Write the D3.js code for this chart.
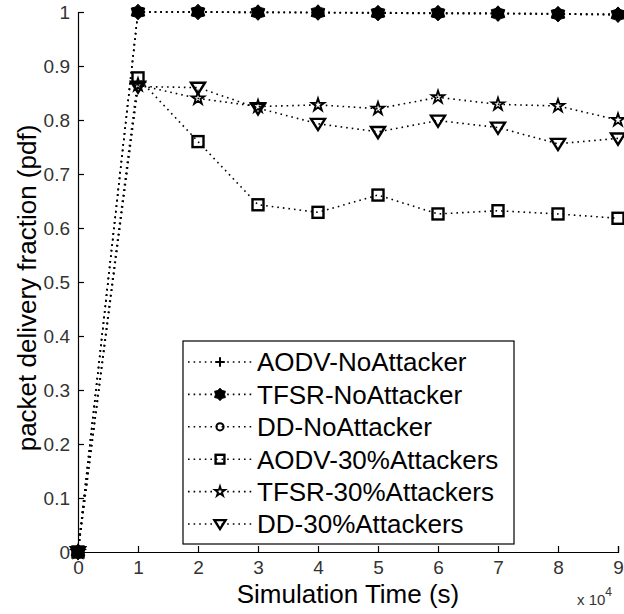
<!DOCTYPE html>
<html>
<head>
<meta charset="utf-8">
<script src="https://cdn.jsdelivr.net/npm/d3@7"></script>
<style>
  body { margin: 0; background: #fff; }
  text { font-family: "Liberation Sans", Arial, sans-serif; }
</style>
</head>
<body>
<script>
// simulation time (s)
const times = [0, 10000, 20000, 30000, 40000, 50000, 60000, 70000, 80000, 90000];
const xTicks = [0, 10000, 20000, 30000, 40000, 50000, 60000, 70000, 80000, 90000];
const yTicks = [0, 0.1, 0.2, 0.3, 0.4, 0.5, 0.6, 0.7, 0.8, 0.9, 1];

// packet delivery fraction per series
const aodvNo   = [0, 1, 1, 0.999, 0.999, 0.998, 0.997, 0.997, 0.996, 0.995];
const tfsrNo   = [0, 1, 1, 0.999, 0.999, 0.998, 0.998, 0.997, 0.996, 0.995];
const ddNo     = [0, 1, 1, 1, 0.999, 0.999, 0.998, 0.998, 0.997, 0.996];
const aodv30   = [0, 0.878, 0.760, 0.643, 0.629, 0.661, 0.626, 0.632, 0.626, 0.618];
const tfsr30   = [0, 0.865, 0.840, 0.825, 0.828, 0.821, 0.842, 0.829, 0.826, 0.800];
const dd30     = [0, 0.862, 0.860, 0.822, 0.793, 0.778, 0.799, 0.786, 0.756, 0.766];

const seriesNames = ["AODV-NoAttacker", "TFSR-NoAttacker", "DD-NoAttacker",
                     "AODV-30%Attackers", "TFSR-30%Attackers", "DD-30%Attackers"];
const seriesValues = [aodvNo, tfsrNo, ddNo, aodv30, tfsr30, dd30];
const markers = ["plus", "hexfill", "circle", "square", "star", "tridown"];

const width = 624, height = 614;
const margin = { top: 12, right: 6, bottom: 62, left: 78 };

const svg = d3.select("body").append("svg")
  .attr("width", width)
  .attr("height", height);

const x = d3.scaleLinear().domain([0, 90000]).range([margin.left, width - margin.right]);
const y = d3.scaleLinear().domain([0, 1]).range([height - margin.bottom, margin.top]);

// axes (MATLAB style: ticks inward, box off)
const xAxis = svg.append("g")
  .attr("transform", `translate(0,${y(0)})`)
  .call(d3.axisBottom(x).tickValues(xTicks).tickSize(-6).tickPadding(9).tickFormat(d => d / 1e4));
const yAxis = svg.append("g")
  .attr("transform", `translate(${x(0)},0)`)
  .call(d3.axisLeft(y).tickValues(yTicks).tickSize(-6).tickPadding(8).tickFormat(d3.format("~g")));

[xAxis, yAxis].forEach(g => {
  g.select(".domain").attr("stroke", "#000").attr("stroke-width", 1.2);
  g.selectAll(".tick line").attr("stroke", "#000").attr("stroke-width", 1.2);
  g.selectAll(".tick text").attr("fill", "#333").style("font-size", "19px");
});

// marker drawing
function drawMarker(g, type, cx, cy, s) {
  s = s || 1;
  const m = g.append("g").attr("transform", `translate(${cx},${cy})`);
  if (type === "plus") {
    m.append("path").attr("d", `M${-6*s},0H${6*s}M0,${-6*s}V${6*s}`)
      .attr("stroke", "#000").attr("stroke-width", 2);
  } else if (type === "hexfill") {
    const pts = [];
    for (let i = 0; i < 12; i++) {
      const r = i % 2 === 0 ? 7.8 * s : 5.6 * s;
      const a = Math.PI / 6 * i - Math.PI / 2;
      pts.push([r * Math.cos(a), r * Math.sin(a)]);
    }
    m.append("path").attr("d", "M" + pts.join("L") + "Z")
      .attr("fill", "#000").attr("stroke", "#000").attr("stroke-width", 1);
  } else if (type === "circle") {
    m.append("circle").attr("r", 4.5 * s)
      .attr("fill", "none").attr("stroke", "#000").attr("stroke-width", 2);
  } else if (type === "square") {
    m.append("rect").attr("x", -5.5 * s).attr("y", -5.5 * s)
      .attr("width", 11 * s).attr("height", 11 * s)
      .attr("fill", "none").attr("stroke", "#000").attr("stroke-width", 2.4);
  } else if (type === "star") {
    m.append("path").attr("d", d3.symbol(d3.symbolStar, 50 * s * s)())
      .attr("fill", "none").attr("stroke", "#000").attr("stroke-width", 1.8);
  } else if (type === "tridown") {
    const r = 7 * s;
    m.append("path").attr("d", `M${-r},${-r*0.7}L${r},${-r*0.7}L0,${r*0.9}Z`)
      .attr("fill", "none").attr("stroke", "#000").attr("stroke-width", 2.4)
      .attr("stroke-linejoin", "miter");
  }
}

const line = d3.line().x(d => x(d[0])).y(d => y(d[1]));
const plot = svg.append("g");

seriesValues.forEach((vals, i) => {
  const pts = times.map((t, j) => [t, vals[j]]);
  plot.append("path")
    .datum(pts)
    .attr("d", line)
    .attr("fill", "none")
    .attr("stroke", "#000")
    .attr("stroke-width", 1.6)
    .attr("stroke-dasharray", "1.6,4");
  pts.forEach(p => drawMarker(plot, markers[i], x(p[0]), y(p[1])));
});

// axis labels
svg.append("text")
  .attr("x", (x(0) + x(90000)) / 2)
  .attr("y", 603)
  .attr("text-anchor", "middle")
  .style("font-size", "26px")
  .text("Simulation Time (s)");

svg.append("text")
  .attr("transform", "rotate(-90)")
  .attr("x", -288)
  .attr("y", 36)
  .attr("text-anchor", "middle")
  .style("font-size", "26px")
  .text("packet delivery fraction (pdf)");

const expo = svg.append("text")
  .attr("x", 577)
  .attr("y", 605)
  .attr("fill", "#333")
  .style("font-size", "15px");
expo.append("tspan").text("x 10");
expo.append("tspan").attr("dy", -9).style("font-size", "12px").text("4");

// legend
const legend = svg.append("g");
legend.append("rect")
  .attr("x", 183).attr("y", 341)
  .attr("width", 331).attr("height", 203)
  .attr("fill", "#fff").attr("stroke", "#000").attr("stroke-width", 1.2);

seriesNames.forEach((name, i) => {
  const ry = 362 + i * 32.4;
  legend.append("line")
    .attr("x1", 188).attr("x2", 252)
    .attr("y1", ry).attr("y2", ry)
    .attr("stroke", "#000").attr("stroke-width", 1.6)
    .attr("stroke-dasharray", "1.6,4");
  drawMarker(legend, markers[i], 220, ry, 0.8);
  legend.append("text")
    .attr("x", 257).attr("y", ry)
    .attr("dy", "0.36em")
    .style("font-size", "26px")
    .text(name);
});
</script>
</body>
</html>
